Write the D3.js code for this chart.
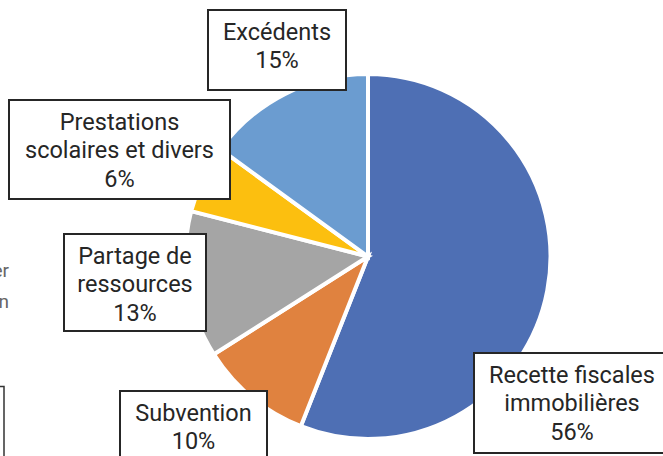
<!DOCTYPE html>
<html>
<head>
<meta charset="utf-8">
<script src="https://cdn.jsdelivr.net/npm/d3@7/dist/d3.min.js"></script>
<style>
  html, body { margin: 0; padding: 0; background: #fff; }
  svg { display: block; }
</style>
</head>
<body>
<div id="chart"></div>
<script>
// slice data, clockwise from 12 o'clock
const categories = ['Recette fiscales immobilières', 'Subvention', 'Partage de ressources', 'Prestations scolaires et divers', 'Excédents'];
const shares = [56, 10, 13, 6, 15];
const labelLines = [
	['Recette fiscales', 'immobilières'],
	['Subvention'],
	['Partage de', 'ressources'],
	['Prestations', 'scolaires et divers'],
	['Excédents']
];
const colors = ['#4e6fb4', '#e0823f', '#a5a5a5', '#fcbf0f', '#6b9cd0'];

// label box layout (x, y, w, h), same order as categories
const boxes = [
	[474, 353, 196, 100],
	[120, 391, 147, 80],
	[64, 234, 142, 97],
	[9, 100, 221, 99],
	[208, 10, 138, 80]
];

const width = 663, height = 456;
const cx = 368, cy = 256.5, radius = 182.5;

const svg = d3.select('#chart').append('svg')
	.attr('width', width)
	.attr('height', height);

const data = categories.map((c, i) => ({name: c, value: shares[i], lines: labelLines[i], color: colors[i], box: boxes[i]}));

const pie = d3.pie().sort(null).value(d => d.value);
const arc = d3.arc().innerRadius(0).outerRadius(radius);

const g = svg.append('g').attr('transform', `translate(${cx},${cy})`);
g.selectAll('path')
	.data(pie(data))
	.enter().append('path')
	.attr('d', arc)
	.attr('fill', d => d.data.color)
	.attr('stroke', '#fff')
	.attr('stroke-width', 4)
	.attr('stroke-linejoin', 'miter');

//partial text/box cut off on the left edge of the page
svg.append('text')
	.attr('x', 9).attr('y', 277)
	.attr('text-anchor', 'end')
	.attr('font-family', 'Roboto, sans-serif')
	.attr('font-size', 19)
	.attr('fill', '#666')
	.text('er');
svg.append('text')
	.attr('x', 9).attr('y', 308)
	.attr('text-anchor', 'end')
	.attr('font-family', 'Roboto, sans-serif')
	.attr('font-size', 19)
	.attr('fill', '#666')
	.text('n');
svg.append('path')
	.attr('d', 'M-10,386.5H4V470')
	.attr('fill', 'none')
	.attr('stroke', '#333')
	.attr('stroke-width', 1.5);

//labels
const lineH = 28.5;
const lab = svg.append('g').selectAll('g')
	.data(data)
	.enter().append('g');

lab.append('rect')
	.attr('x', d => d.box[0])
	.attr('y', d => d.box[1])
	.attr('width', d => d.box[2])
	.attr('height', d => d.box[3])
	.attr('fill', '#fff')
	.attr('stroke', '#262626')
	.attr('stroke-width', 2);

lab.each(function(d) {
	const lines = d.lines.concat([d.value + '%']);
	const bx = d.box[0] + d.box[2] / 2;
	const by = d.box[1] + 29.5;
	const t = d3.select(this).append('text')
		.attr('text-anchor', 'middle')
		.attr('font-family', 'Roboto, sans-serif')
		.attr('font-size', 23.5)
		.attr('fill', '#262626');
	lines.forEach((l, i) => {
		t.append('tspan')
			.attr('x', bx)
			.attr('y', by + i * lineH)
			.text(l);
	});
});
</script>
</body>
</html>
